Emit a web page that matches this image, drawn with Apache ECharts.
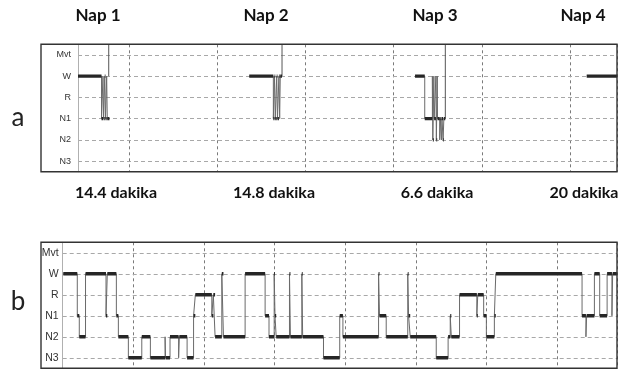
<!DOCTYPE html>
<html><head><meta charset="utf-8">
<script src="https://cdn.jsdelivr.net/npm/echarts@6/dist/echarts.min.js"></script>
<style>html,body{margin:0;padding:0;background:#fff}#c{width:636px;height:370px}</style>
</head><body><div id="c"></div>
<script>
// ---- data ----
const stageNames = ['N3', 'N2', 'N1', 'R', 'W', 'Mvt'];
const napTitles = ['Nap 1', 'Nap 2', 'Nap 3', 'Nap 4'];
const napLatencies = ['14.4 dakika', '14.8 dakika', '6.6 dakika', '20 dakika'];
const panelLabels = ['a', 'b'];

// Panel a: minutes after 09:00 ; [start, stage], last item = end time
const panelARange = [25.3, 392];
const nap1 = [[25.3,'W'],[41.3,'N1'],[42.3,'W'],[42.7,'N1'],[43.5,'W'],[44.0,'N1'],[44.8,'W'],[45.2,'N1'],[46.7,null]];
const nap2 = [[141.8,'W'],[158.2,'N1'],[159.0,'W'],[159.5,'N1'],[160.5,'W'],[161.0,'N1'],[162.0,'W'],[162.5,'N1'],[162.9,'W'],[164.1,null]];
const nap3 = [[254.6,'W'],[261.2,'N1'],[266.4,'W'],[266.7,'N2'],[267.4,'W'],[267.6,'N1'],[268.8,'W'],[269.1,'N2'],[269.7,'W'],[269.9,'N1'],[271.4,'N2'],[271.8,'N1'],[272.6,'N2'],[272.9,'N1'],[273.7,'N2'],[274.2,'N1'],[275.2,null]];
const nap4 = [[371.4,'W'],[392,null]];
const napCursors = [[46.2,'W'],[164.1,'W'],[275.2,'N1']];

// Panel b: minutes after 22:00
const panelBRange = [0, 471];
const night = [
  [0.5,'W'],[12.4,'N1'],[14.1,'N2'],[19.4,'W'],[36.8,'N1'],[37.9,'W'],[45.6,'N1'],[47.3,'N2'],
  [55.8,'N3'],[67.2,'N2'],[74.5,'N3'],[87.0,'N2'],[87.4,'N3'],[91.2,'N2'],[98.5,'N3'],[99.1,'N2'],
  [105.7,'N3'],[111.2,'N1'],[112.7,'R'],[126.7,'N1'],[128.0,'R'],[129.5,'N2'],[135.2,'W'],[136.6,'N2'],
  [155.0,'W'],[172.0,'N1'],[175.3,'N2'],[179.7,'W'],[180.4,'N1'],[181.4,'N2'],[192.7,'W'],[193.5,'N2'],
  [203.2,'W'],[203.9,'N2'],[221.6,'N3'],[235.4,'N1'],[238.1,'N2'],[268.4,'W'],[269.2,'N1'],[274.9,'N2'],
  [293.2,'W'],[293.9,'N1'],[295.3,'N2'],[317.4,'N3'],[327.5,'N2'],[329.3,'N1'],[330.2,'N2'],[337.2,'R'],
  [351.9,'N1'],[352.7,'R'],[357.7,'N1'],[360.0,'N2'],[366.8,'N1'],[368.0,'W'],[441.3,'N1'],[444.6,'N2'],
  [445.2,'N1'],[451.8,'W'],[456.3,'N1'],[462.6,'W'],[466.7,'N1'],[467.3,'W'],[470.9,null]
];

// ---- helpers ----
const baseA = new Date(2020, 0, 1, 9, 0, 0).getTime();
const baseB = new Date(2020, 0, 1, 22, 0, 0).getTime();
const sv = s => stageNames.indexOf(s);
function thinPts(seqs, base) {
  const out = [];
  seqs.forEach(seq => {
    for (let i = 0; i < seq.length - 1; i++) {
      out.push([base + seq[i][0] * 60000, sv(seq[i][1])]);
      out.push([base + seq[i + 1][0] * 60000, sv(seq[i][1])]);
    }
    out.push([base + seq[seq.length - 1][0] * 60000, null]);
  });
  return out;
}
function thickPts(seqs, base) {
  const out = [];
  seqs.forEach(seq => {
    for (let i = 0; i < seq.length - 1; i++) {
      out.push([base + seq[i][0] * 60000, sv(seq[i][1])]);
      out.push([base + seq[i + 1][0] * 60000, sv(seq[i][1])]);
      out.push([base + seq[i + 1][0] * 60000, null]);
    }
  });
  return out;
}
function cursorPts(list, base) {
  const out = [];
  list.forEach(c => {
    out.push([base + c[0] * 60000, sv(c[1])]);
    out.push([base + c[0] * 60000, 5.5]);
    out.push([base + c[0] * 60000, null]);
  });
  return out;
}

const gridLineMarks = {
  silent: true, symbol: 'none', animation: false, z: 0,
  label: { show: false },
  lineStyle: { type: [4, 3], color: '#a8a8a8', width: 1 },
  emphasis: { disabled: true },
  data: stageNames.map((s, i) => ({ yAxis: i }))
};

function xAx(grid, base, range) {
  return {
    type: 'time', gridIndex: grid,
    min: base + range[0] * 60000, max: base + range[1] * 60000,
    minInterval: 3600000, maxInterval: 3600000,
    axisLabel: { show: false }, axisTick: { show: false }, axisLine: { show: false },
    splitLine: { show: true, lineStyle: { type: [3, 3], color: '#7a7a7a', width: 1 } }
  };
}
function yCat(grid, fs, margin) {
  return {
    type: 'category', gridIndex: grid, data: stageNames, boundaryGap: true,
    axisLine: { show: true, lineStyle: { color: '#b0b0b0', width: 1 } },
    axisTick: { show: false }, splitLine: { show: false },
    axisLabel: { fontSize: fs, color: '#333', margin: margin, fontFamily: 'Liberation Sans, Arial' }
  };
}
function yVal(grid) {
  return { type: 'value', gridIndex: grid, min: -0.5, max: 5.5, show: false, splitLine: { show: false } };
}
function seriesFor(xi, yi, thin, thick, cursors) {
  const arr = [
    { type: 'line', xAxisIndex: xi, yAxisIndex: yi, data: [], markLine: gridLineMarks, z: 0 },
    { type: 'line', xAxisIndex: xi, yAxisIndex: yi, data: thin, symbol: 'none', connectNulls: false,
      lineStyle: { color: '#6a6a6a', width: 1 }, z: 3 },
    { type: 'line', xAxisIndex: xi, yAxisIndex: yi, data: thick, symbol: 'none', connectNulls: false,
      lineStyle: { color: '#262626', width: 3.4, cap: 'butt' }, z: 4 }
  ];
  if (cursors) arr.push({ type: 'line', xAxisIndex: xi, yAxisIndex: yi, data: cursors, symbol: 'none',
      connectNulls: false, lineStyle: { color: '#555', width: 1 }, z: 2 });
  return arr;
}

const napsA = [nap1, nap2, nap3, nap4];
const titleCenters = [98, 266, 435, 583];
const latCenters = [116, 274, 437, 584];
const textFont = 'Lato, "Open Sans", sans-serif';

const graphics = [
  { type: 'rect', shape: { x: 41, y: 44.3, width: 576, height: 127.4 }, style: { fill: 'none', stroke: '#333', lineWidth: 1.4 }, z: 100 },
  { type: 'rect', shape: { x: 41, y: 242.3, width: 576, height: 126 }, style: { fill: 'none', stroke: '#333', lineWidth: 1.4 }, z: 100 },
  { type: 'text', x: 18, y: 118, style: { text: panelLabels[0], font: '26px ' + textFont, fill: '#222', textAlign: 'center', textVerticalAlign: 'middle' } },
  { type: 'text', x: 18, y: 302, style: { text: panelLabels[1], font: '26px ' + textFont, fill: '#222', textAlign: 'center', textVerticalAlign: 'middle' } }
];
napTitles.forEach((t, i) => graphics.push({ type: 'text', x: titleCenters[i], y: 16,
  style: { text: t, font: 'bold 17px ' + textFont, fill: '#111', textAlign: 'center', textVerticalAlign: 'middle' } }));
napLatencies.forEach((t, i) => graphics.push({ type: 'text', x: latCenters[i], y: 193,
  style: { text: t, font: 'bold 16px ' + textFont, fill: '#111', textAlign: 'center', textVerticalAlign: 'middle' } }));

const chart = echarts.init(document.getElementById('c'), null, { renderer: 'canvas' });
chart.setOption({
  animation: false,
  backgroundColor: '#fff',
  grid: [
    { left: 78, right: 19, top: 44.3, height: 127.4 },
    { left: 62.7, right: 19, top: 242.3, height: 126 }
  ],
  xAxis: [xAx(0, baseA, panelARange), xAx(1, baseB, panelBRange)],
  yAxis: [yCat(0, 9, 7), yVal(0), yCat(1, 10.5, 4), yVal(1)],
  series: [
    ...seriesFor(0, 1, thinPts(napsA, baseA), thickPts(napsA, baseA), cursorPts(napCursors, baseA)),
    ...seriesFor(1, 3, thinPts([night], baseB), thickPts([night], baseB), null)
  ],
  graphic: graphics
});
</script></body></html>
